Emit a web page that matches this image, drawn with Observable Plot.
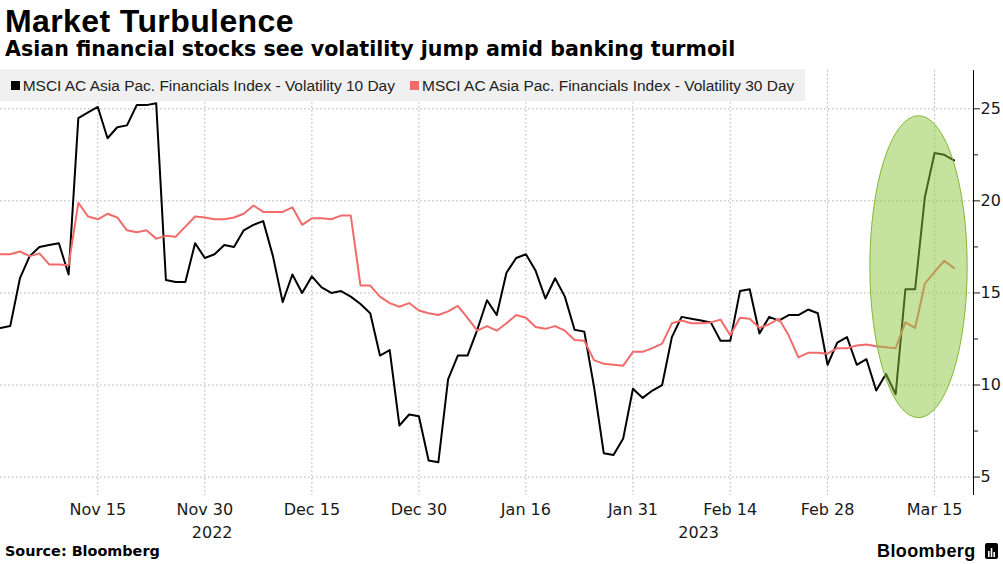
<!DOCTYPE html>
<html><head><meta charset="utf-8">
<script src="https://cdn.jsdelivr.net/npm/d3@7"></script>
<script src="https://cdn.jsdelivr.net/npm/@observablehq/plot@0.6"></script>
<style>
body{margin:0;background:#fff;}
#wrap{position:relative;width:1003px;height:564px;overflow:hidden;font-family:"Liberation Sans",Arial,sans-serif;color:#000;background:#fff;}
#title{position:absolute;left:5px;top:4.8px;font-weight:bold;font-size:32px;line-height:32px;letter-spacing:0.4px;white-space:nowrap;}
#subtitle{position:absolute;left:5px;top:38.6px;font-family:"DejaVu Sans",sans-serif;font-weight:bold;font-size:20.6px;line-height:20.6px;white-space:nowrap;}
#chart{position:absolute;left:0;top:62px;}
#legend{position:absolute;left:0;top:69px;width:805px;height:32px;background:#f0f0f0;}
.sw{position:absolute;top:12px;width:9px;height:9px;}
.lt{position:absolute;top:9.3px;font-size:15.47px;line-height:15.47px;color:#222;white-space:nowrap;}
#source{position:absolute;left:5px;top:543.8px;font-family:"DejaVu Sans",sans-serif;font-weight:bold;font-size:14.4px;line-height:14.4px;white-space:nowrap;}
#brand{position:absolute;left:877px;top:541.5px;font-weight:bold;font-size:18px;line-height:18px;letter-spacing:0.4px;white-space:nowrap;}
#icon{position:absolute;left:985px;top:543px;}
</style></head><body>
<div id="wrap">
  <div id="title">Market Turbulence</div>
  <div id="subtitle">Asian financial stocks see volatility jump amid banking turmoil</div>
  <div id="chart"></div>
  <div id="legend"></div>
  <div id="source">Source: Bloomberg</div>
  <div id="brand">Bloomberg</div>
  <svg id="icon" width="13" height="16" viewBox="0 0 13 16"><rect x="0" y="0" width="13" height="16" rx="2" fill="#000"/><rect x="3" y="8" width="1.6" height="6" fill="#fff"/><rect x="5.7" y="5" width="1.6" height="9" fill="#fff"/><rect x="8.4" y="9" width="1.6" height="5" fill="#fff"/></svg>
</div>
<script>
// ---- data ----
const startDate = "2022-11-01";
const endDate = "2023-03-17";
const seriesNames = ["MSCI AC Asia Pac. Financials Index - Volatility 10 Day", "MSCI AC Asia Pac. Financials Index - Volatility 30 Day"];
const seriesColors = ["#000000", "#f26b6b"];
const vol10 = [13.1,13.2,15.8,17.0,17.5,17.6,17.7,16.0,24.5,24.8,
  25.1,23.4,24.0,24.1,25.2,25.2,25.3,15.7,15.6,15.6,
  17.7,16.9,17.1,17.6,17.5,18.4,18.7,18.9,17.0,14.5,
  16.0,15.0,15.9,15.3,15.0,15.1,14.8,14.4,13.9,11.6,
  11.9,7.8,8.4,8.3,5.9,5.8,10.3,11.6,11.6,13.0,
  14.6,13.8,16.1,16.9,17.1,16.2,14.7,15.8,14.8,13.0,
  12.9,9.9,6.3,6.2,7.1,9.8,9.3,9.7,10.0,12.6,
  13.7,13.6,13.5,13.4,12.4,12.4,15.1,15.2,12.8,13.7,
  13.5,13.8,13.8,14.1,13.9,11.1,12.3,12.6,11.1,11.4,
  9.7,10.6,9.5,15.2,15.2,20.2,22.6,22.5,22.2];
const vol30 = [17.1,17.1,17.25,17.0,17.15,16.55,16.55,16.5,19.9,19.15,
  19.0,19.3,19.1,18.4,18.3,18.4,17.95,18.1,18.05,18.6,
  19.15,19.1,19.0,19.0,19.1,19.3,19.75,19.4,19.4,19.4,
  19.65,18.7,19.05,19.05,19.0,19.2,19.2,15.4,15.4,14.8,
  14.45,14.25,14.45,14.05,13.9,13.8,14.0,14.3,13.65,12.95,
  13.2,12.95,13.35,13.8,13.65,13.15,13.05,13.2,12.95,12.45,
  12.4,11.35,11.15,11.1,11.05,11.8,11.8,12.0,12.25,13.35,
  13.5,13.35,13.35,13.4,13.55,12.7,13.65,13.6,13.1,13.3,
  13.6,12.7,11.5,11.75,11.75,11.7,12.0,12.0,12.15,12.2,
  12.1,12.05,12.0,13.4,13.1,15.5,16.15,16.75,16.35];
const tickDates = ["2022-11-15","2022-11-30","2022-12-15","2022-12-30","2023-01-16","2023-01-31","2023-02-14","2023-02-28","2023-03-15"];
const tickLabels = ["Nov 15","Nov 30","Dec 15","Dec 30","Jan 16","Jan 31","Feb 14","Feb 28","Mar 15"];
const yTicks = [5, 10, 15, 20, 25];
const yMinorTicks = [7.5, 12.5, 17.5, 22.5];
const yDomain = [4.0, 27.08];
const xSlots = 100; // trading-day slots on the axis
// highlighted region (ellipse annotation): trading-day index span and value span
const highlightIdx = [89.4, 99.4];
const highlightVal = [8.2, 24.6];

// ---- build ----
const days = d3.utcDays(new Date(startDate), d3.utcDay.offset(new Date(endDate), 1))
  .filter(d => d.getUTCDay() !== 0 && d.getUTCDay() !== 6);
const fmt = d3.utcFormat("%Y-%m-%d");
const dayIdx = new Map(days.map((d, i) => [fmt(d), i]));
const rows = days.map((d, i) => ({i, date: d, v10: vol10[i], v30: vol30[i]}));
const tickIdx = tickDates.map(s => dayIdx.get(s));
const labelByIdx = new Map(tickIdx.map((t, k) => [t, tickLabels[k]]));
const yearList = Array.from(new Set(days.map(d => d.getUTCFullYear())));
const yearRows = yearList.map((y, k) => {
  const idx = rows.filter(r => r.date.getUTCFullYear() === y).map(r => r.i);
  const lo = Math.max(0, d3.min(idx) - 0.5);
  const hi = k === yearList.length - 1 ? xSlots : d3.max(idx) + 0.5;
  return {year: String(y), mid: (lo + hi) / 2};
});

const plot = Plot.plot({
  width: 1003, height: 480,
  marginLeft: 0, marginRight: 30, marginTop: 8, marginBottom: 47,
  style: {fontFamily: "'DejaVu Sans', sans-serif", fontSize: "16px", color: "#1a1a1a", background: "transparent", overflow: "visible"},
  x: {type: "linear", domain: [0, xSlots], label: null},
  y: {domain: yDomain, label: null},
  marks: [
    Plot.gridY(yTicks, {stroke: "#b0b0b0", strokeOpacity: 1, strokeDasharray: "1.5,2.5"}),
    Plot.gridX(tickIdx, {stroke: "#b0b0b0", strokeOpacity: 1, strokeDasharray: "1.5,2.5"}),
    Plot.axisX(tickIdx, {tickSize: 0, tickPadding: 8, tickFormat: d => labelByIdx.get(d), fontSize: 16}),
    Plot.text(yearRows, {x: "mid", text: "year", frameAnchor: "bottom", dy: 37, lineAnchor: "middle", fontSize: 16, fill: "#1a1a1a"}),
    Plot.axisY(yTicks, {anchor: "right", tickSize: 6, tickPadding: 1, fontSize: 16, textAnchor: "start"}),
    Plot.axisY(yMinorTicks, {anchor: "right", tickSize: 4, tickFormat: () => ""}),
    Plot.ruleX([xSlots], {stroke: "#000", strokeWidth: 1}),
    Plot.line(rows, {x: "i", y: "v10", stroke: seriesColors[0], strokeWidth: 2}),
    Plot.line(rows, {x: "i", y: "v30", stroke: seriesColors[1], strokeWidth: 2})
  ]
});

// ellipse annotation placed through the plot's own scales
const sx = plot.scale("x"), sy = plot.scale("y");
const ex0 = sx.apply(highlightIdx[0]), ex1 = sx.apply(highlightIdx[1]);
const ey0 = sy.apply(highlightVal[0]), ey1 = sy.apply(highlightVal[1]);
d3.select(plot).append("ellipse")
  .attr("cx", (ex0 + ex1) / 2).attr("cy", (ey0 + ey1) / 2)
  .attr("rx", Math.abs(ex1 - ex0) / 2).attr("ry", Math.abs(ey1 - ey0) / 2)
  .attr("fill", "#8dc63f").attr("fill-opacity", 0.5)
  .attr("stroke", "#7fb934").attr("stroke-width", 1);

document.getElementById("chart").appendChild(plot);

// legend
const legend = d3.select("#legend");
const legendX = [10.7, 410];
seriesNames.forEach((name, k) => {
  legend.append("div").attr("class", "sw").style("left", legendX[k] + "px").style("background", seriesColors[k]);
  legend.append("div").attr("class", "lt").style("left", (legendX[k] + 12) + "px").text(name);
});
</script>
</body></html>
